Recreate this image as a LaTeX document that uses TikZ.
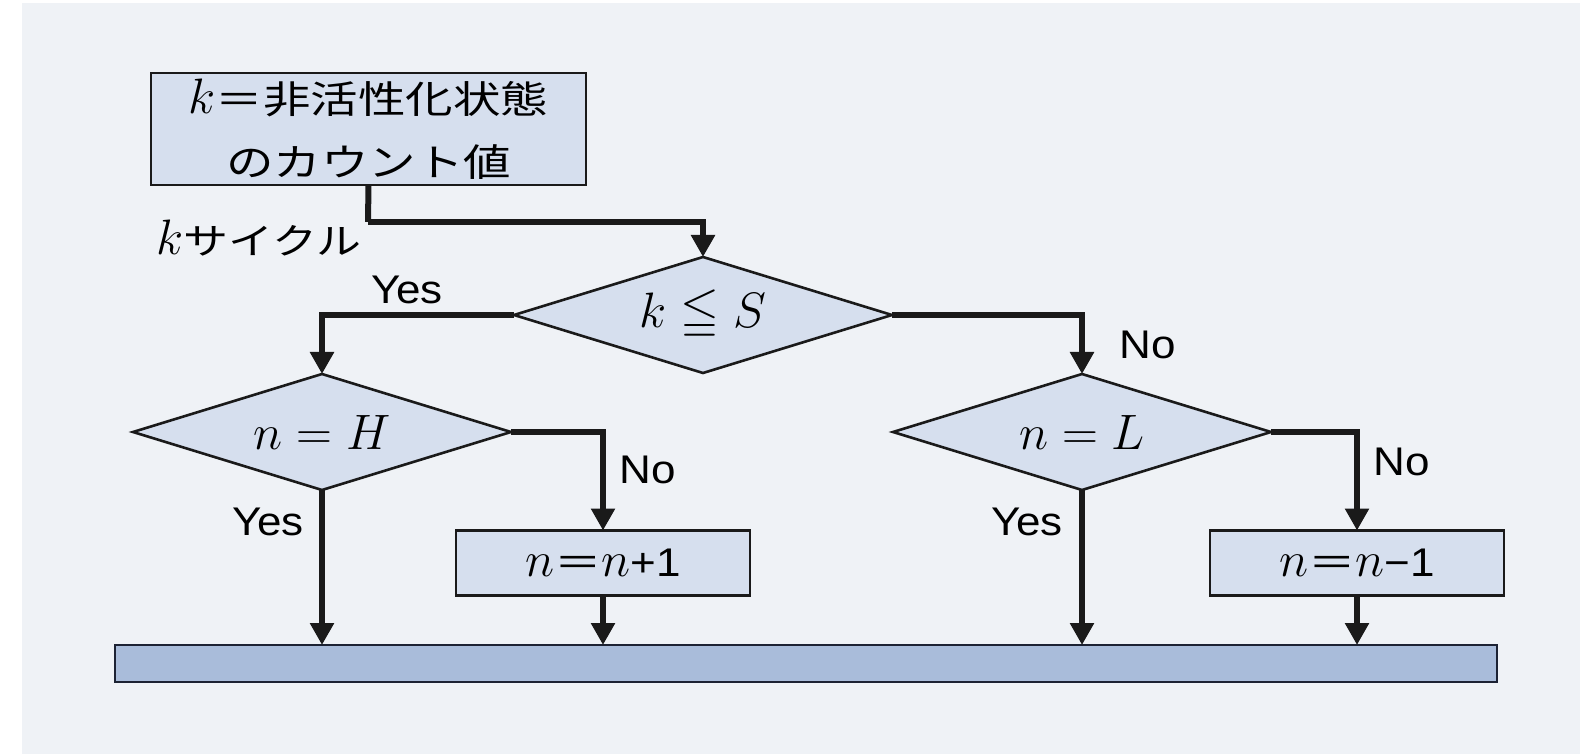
\documentclass[tikz,border=0pt]{standalone}
\usepackage{amssymb}
\usepackage{fontspec}
\usepackage{graphicx}
\usetikzlibrary{shapes.geometric,arrows.meta}
\newfontfamily\jp[FakeStretch=1.25]{Noto Sans CJK JP}
\newfontfamily\lab[FakeStretch=1.1]{Liberation Sans}
\newcommand{\bigk}{{\fontsize{25}{25}\selectfont$k$}}
\definecolor{bgc}{HTML}{EFF2F6}
\definecolor{boxc}{HTML}{D6DFEE}
\definecolor{barc}{HTML}{A9BCDA}
\definecolor{linec}{HTML}{1A1A1A}
\definecolor{barline}{HTML}{1C2233}
\begin{document}
\begin{tikzpicture}[x=0.5pt,y=-0.5pt,
  conn/.style={line width=3pt, draw=linec},
  arr/.style={conn, -{Triangle[width=11.5pt,length=11pt]}},
  procbox/.style={draw=linec, line width=1.3pt, fill=boxc, rectangle, inner sep=0pt, outer sep=0pt},
  decis/.style={draw=linec, line width=1.3pt, fill=boxc, diamond, aspect=3.24, inner sep=0pt, outer sep=0pt, minimum width=189pt, minimum height=58pt},
  barbox/.style={draw=barline, line width=1.4pt, fill=barc, rectangle, inner sep=0pt, outer sep=0pt},
  lbl/.style={font=\lab\fontsize{20}{24}\selectfont, inner sep=0pt},
  mtxt/.style={font=\fontsize{25}{28}\selectfont},
  btxt/.style={font=\fontsize{24}{26}\selectfont}]
\useasboundingbox (0,0) rectangle (1580,754);
\fill[white] (0,0) rectangle (1580,754);
\fill[bgc] (22,3) rectangle (1580,754);

% nodes
\node[procbox, minimum width=217.5pt, minimum height=56pt, align=center,
  font=\jp\fontsize{19}{31.5}\selectfont] (top) at (368.5,129)
  {\bigk＝非活性化状態\\のカウント値};
\node[decis, mtxt] (D1) at (703,315) {$k \leqq S$};
\node[decis, mtxt] (D2) at (322,432) {$n = H$};
\node[decis, mtxt] (D3) at (1082,432) {$n = L$};
\node[procbox, minimum width=147pt, minimum height=32.5pt, btxt] (B2) at (603,563)
  {$n${\jp\fontsize{19}{22}\selectfont＝}$n${\lab\fontsize{20}{22}\selectfont+1}};
\node[procbox, minimum width=147pt, minimum height=32.5pt, btxt] (B3) at (1357,563)
  {$n${\jp\fontsize{19}{22}\selectfont＝}$n${\lab\fontsize{20}{22}\selectfont−1}};
\node[barbox, minimum width=691pt, minimum height=18.5pt] (bar) at (806,663.5) {};

% labels
\node[inner sep=0pt, font=\jp\fontsize{18}{22}\selectfont] (kc) at (259,238) {\bigk サイクル};
\node[lbl] (y1) at (407,290) {Yes};
\node[lbl] (n1) at (1148,345) {No};
\node[lbl] (n2) at (648,470) {No};
\node[lbl] (y2) at (268,522) {Yes};
\node[lbl] (y3) at (1027,522) {Yes};
\node[lbl] (n3) at (1402,462) {No};

% connectors
\coordinate (k1) at (368,222);
\draw[conn] (top.south) -- (k1);
\draw[arr] (k1) -| (D1.north);
\draw[arr] (D1.west) -| (D2.north);
\draw[arr] (D1.east) -| (D3.north);
\draw[arr] (D2.east) -| (B2.north);
\draw[arr] (D3.east) -| (B3.north);
\draw[arr] (D2.south) -- (D2.south |- bar.north);
\draw[arr] (D3.south) -- (D3.south |- bar.north);
\draw[arr] (B2.south) -- (B2.south |- bar.north);
\draw[arr] (B3.south) -- (B3.south |- bar.north);
\end{tikzpicture}
\end{document}
